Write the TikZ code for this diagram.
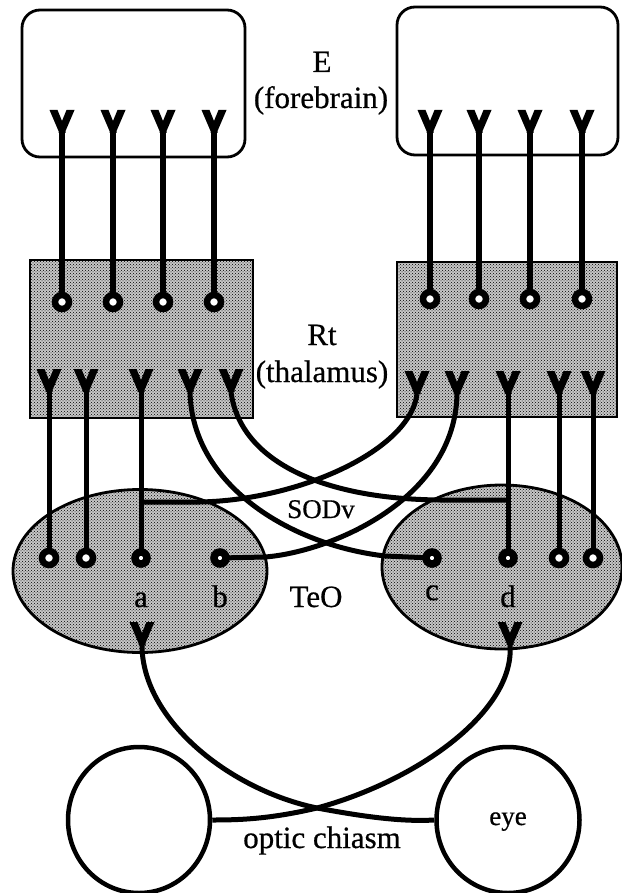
\documentclass[tikz,border=0pt]{standalone}
\usepackage{fontspec}
\setmainfont{Liberation Serif}
\newfontfamily\labelfont[FakeBold=0.6]{Liberation Serif}
\usetikzlibrary{shapes.geometric,patterns}
\pgfdeclarelayer{back}
\pgfdeclarelayer{mid}
\pgfsetlayers{back,mid,main}

\tikzset{
  stipple/.style={preaction={fill=black!22}, pattern=crosshatch dots, pattern color=black},
  ebox/.style={rectangle, draw, line width=2.8pt, rounded corners=18pt, inner sep=0pt},
  rtbox/.style={rectangle, draw, line width=2.8pt, inner sep=0pt, stipple},
  teo/.style={ellipse, draw, line width=2.8pt, inner sep=0pt, stipple},
  eyeball/.style={ellipse, draw, line width=4.5pt, inner sep=0pt, fill=white},
  ring/.style={circle, draw, line width=6.5pt, fill=white, minimum size=14pt, inner sep=0pt},
  dotring/.style={circle, draw, line width=7.5pt, fill=white, minimum size=12pt, inner sep=0pt},
  axon/.style={line width=6pt},
  fibre/.style={line width=5pt},
  lbl/.style={font=\labelfont\fontsize{31}{34}\selectfont, inner sep=0pt, anchor=base},
  smalllbl/.style={font=\labelfont\fontsize{27}{30}\selectfont, inner sep=0pt, anchor=base},
  % Y-shaped dendritic terminal, junction at the origin, arms opening upwards
  pics/yterm/.style={code={\fill (-12.5,-23) -- (-4.5,-23) -- (0,-12) -- (4.5,-23)
      -- (12.5,-23) -- (3.5,-2) -- (3.5,0) -- (-3.5,0) -- (-3.5,-2) -- cycle;}}
}

\begin{document}
\begin{tikzpicture}[x=1pt,y=-1pt]
\useasboundingbox (0,0) rectangle (621,893);

% ---- brain regions ----
\begin{pgfonlayer}{back}
  \node[ebox, minimum width=223pt, minimum height=147pt] (EL) at (133.5,83.5) {};
  \node[ebox, minimum width=221pt, minimum height=148pt] (ER) at (507.5,81) {};
  \node[rtbox, minimum width=223pt, minimum height=158pt] (RL) at (141.5,339) {};
  \node[rtbox, minimum width=220pt, minimum height=155pt] (RR) at (507,339.5) {};
  \node[teo, minimum width=254pt, minimum height=163pt] (TL) at (140,571) {};
  \node[teo, minimum width=240pt, minimum height=164pt] (TR) at (502,567) {};
  \node[eyeball, minimum width=142pt, minimum height=146pt] (EyL) at (139,820) {};
  \node[eyeball, minimum width=143pt, minimum height=146pt] (EyR) at (508,820) {};
\end{pgfonlayer}

% ---- terminal positions ----
% forebrain outputs
\coordinate (eL1) at (62,133);  \coordinate (eL2) at (113,133);
\coordinate (eL3) at (163,133); \coordinate (eL4) at (214,133);
\coordinate (eR1) at (430,133); \coordinate (eR2) at (479,133);
\coordinate (eR3) at (530,133); \coordinate (eR4) at (582,133);
% thalamic outputs
\coordinate (yL1) at (49,392);  \coordinate (yL2) at (86,392);
\coordinate (yL3) at (141,392); \coordinate (yL4) at (190,392);
\coordinate (yL5) at (231,392);
\coordinate (yR1) at (417,394); \coordinate (yR2) at (457,394);
\coordinate (yR3) at (508,394); \coordinate (yR4) at (559,394);
\coordinate (yR5) at (593,394);
% retinal terminals in the tectum
\coordinate (oL) at (142,645); \coordinate (oR) at (510,645);
% branch points and chiasm
\coordinate (aj) at (141,502); \coordinate (dj) at (508,500);
\coordinate (chi) at (317,808);

% thalamic receiving terminals
\node[ring] (rL1) at (62,302) {};  \node[ring] (rL2) at (113,302) {};
\node[ring] (rL3) at (163,302) {}; \node[ring] (rL4) at (214,302) {};
\node[ring] (rR1) at (430,299) {}; \node[ring] (rR2) at (479,299) {};
\node[ring] (rR3) at (530,299) {}; \node[ring] (rR4) at (582,299) {};
% tectal receiving terminals
\node[ring] (tL1) at (49,558) {};  \node[ring] (tL2) at (86,558) {};
\node[dotring] (ta) at (141,558) {}; \node[dotring] (tb) at (220,558) {};
\node[dotring] (tc) at (432,558) {}; \node[dotring] (td) at (508,558) {};
\node[ring] (tR3) at (559,558) {};  \node[ring] (tR4) at (593,558) {};

% ---- fibres ----
\begin{pgfonlayer}{mid}
  \foreach \i in {1,...,4} {
    \draw[axon] (eL\i) -- (rL\i.center);
    \draw[axon] (eR\i) -- (rR\i.center);
  }
  \draw[fibre] (yL1) -- (tL1.center);
  \draw[fibre] (yL2) -- (tL2.center);
  \draw[fibre] (yL3) -- (ta.center);
  \draw[fibre] (yR3) -- (td.center);
  \draw[fibre] (yR4) -- (tR3.center);
  \draw[fibre] (yR5) -- (tR4.center);
  % crossed projections
  \draw[fibre] (yL4) .. controls (192,485) and (290,545) .. (385,556) -- (tc.center);
  \draw[fibre] (yL5) .. controls (240,460) and (320,499) .. (440,500) -- (dj);
  \draw[fibre] (yR1) .. controls (410,450) and (300,500) .. (200,502) -- (aj);
  \draw[fibre] (yR2) .. controls (455,500) and (330,552) .. (265,557) -- (tb.center);
  % retinal projections through the chiasm
  \draw[fibre] (oL) .. controls (142,720) and (230,790) .. (chi)
                    .. controls (360,816) and (400,822) .. (EyR.west);
  \draw[fibre] (oR) .. controls (515,710) and (420,780) .. (chi)
                    .. controls (270,819) and (240,820) .. (EyL.east);
\end{pgfonlayer}

% ---- dendritic terminals ----
\foreach \c in {eL1,eL2,eL3,eL4,eR1,eR2,eR3,eR4,
                yL1,yL2,yL3,yL4,yL5,yR1,yR2,yR3,yR4,yR5,oL,oR}
  \pic at (\c) {yterm};

% ---- labels ----
\node[lbl] (lE) at (322,72) {E};
\node[lbl] (lfb) at (321,108) {(forebrain)};
\node[lbl] (lRt) at (322,345) {Rt};
\node[lbl] (lth) at (322,382) {(thalamus)};
\node[smalllbl] (lsod) at (321,518) {SODv};
\node[lbl] (lteo) at (316,607) {TeO};
\node[lbl] (la) at (141,607) {a};
\node[lbl] (lb) at (220,607) {b};
\node[lbl] (lc) at (432,600) {c};
\node[lbl] (ld) at (508,607) {d};
\node[smalllbl] (leye) at (508,825) {eye};
\node[lbl] (lchi) at (322,848) {optic chiasm};
\end{tikzpicture}
\end{document}
